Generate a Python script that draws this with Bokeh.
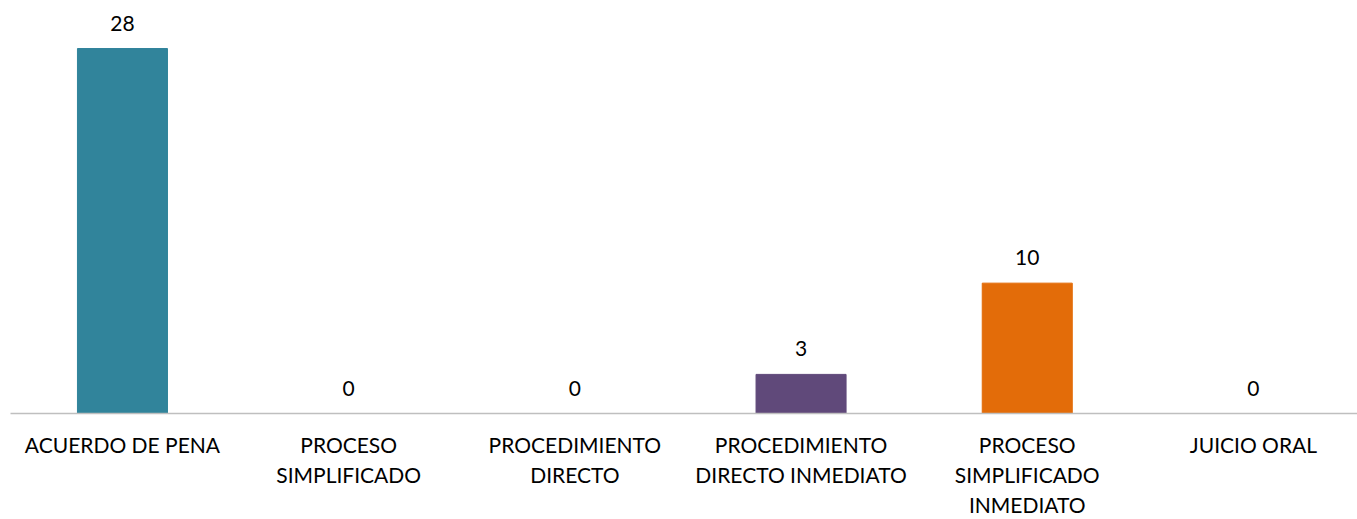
from bokeh.plotting import figure
from bokeh.models import Range1d, FixedTicker, ColumnDataSource
from bokeh.core.properties import value
from bokeh.embed import file_html
from bokeh.resources import INLINE

categories = ["ACUERDO DE PENA", "PROCESO\nSIMPLIFICADO", "PROCEDIMIENTO\nDIRECTO",
              "PROCEDIMIENTO\nDIRECTO INMEDIATO", "PROCESO\nSIMPLIFICADO\nINMEDIATO", "JUICIO ORAL"]
values = [28, 0, 0, 3, 10, 0]
colors = ["#31849B", "#31849B", "#31849B", "#60497A", "#E36C09", "#31849B"]

xs = list(range(len(categories)))
src = ColumnDataSource(dict(x=xs, top=values, color=colors, label=[str(v) for v in values]))

p = figure(width=1357, height=519, output_backend="svg", toolbar_location=None,
           x_range=Range1d(-0.495, 5.46), y_range=Range1d(0, 31.07),
           min_border_left=10, min_border_right=0, min_border_top=8, min_border_bottom=104)
p.outline_line_color = None
p.xgrid.visible = False
p.ygrid.visible = False
p.yaxis.visible = False

p.vbar(x="x", top="top", width=0.398, color="color", source=src)
p.text(x="x", y="top", text="label", source=src, text_align="center", text_baseline="bottom",
       y_offset=-18, text_font=value("Lato"), text_font_size="21px", text_color="#000000")

p.xaxis.ticker = FixedTicker(ticks=xs)
p.xaxis.major_label_overrides = {i: c for i, c in enumerate(categories)}
p.xaxis.major_tick_line_color = None
p.xaxis.minor_tick_line_color = None
p.xaxis.axis_line_color = "#bfbfbf"
p.xaxis.axis_line_width = 1.5
p.xaxis.major_label_text_font = "Lato"
p.xaxis.major_label_text_font_size = "21px"
p.xaxis.major_label_text_color = "#000000"
p.xaxis.major_label_standoff = 12

open("out.html", "w").write(file_html(p, INLINE))
